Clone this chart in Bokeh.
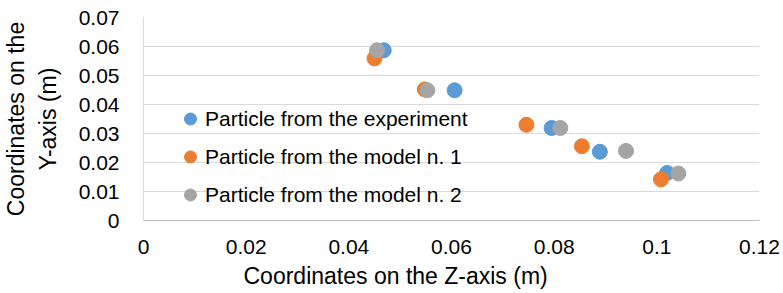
from bokeh.plotting import figure
from bokeh.models import (Range1d, FixedTicker, NumeralTickFormatter, Legend, LegendItem, Title)
from bokeh.embed import file_html
from bokeh.resources import INLINE

# Data (Z, Y coordinates in metres)
exp_z = [0.0468, 0.0606, 0.0795, 0.0889, 0.1020]
exp_y = [0.0587, 0.0449, 0.0319, 0.0237, 0.0164]
m1_z = [0.0450, 0.0548, 0.0746, 0.0854, 0.1008]
m1_y = [0.0559, 0.0452, 0.0330, 0.0256, 0.0142]
m2_z = [0.0455, 0.0553, 0.0812, 0.0940, 0.1042]
m2_y = [0.0587, 0.0449, 0.0319, 0.0240, 0.0162]

series_names = ["Particle from the experiment", "Particle from the model n. 1",
                "Particle from the model n. 2"]
x_ticks = [0, 0.02, 0.04, 0.06, 0.08, 0.1, 0.12]
y_ticks = [0, 0.01, 0.02, 0.03, 0.04, 0.05, 0.06, 0.07]

colors = ["#5B9BD5", "#ED7D31", "#A5A5A5"]
FONT = "Liberation Sans"

p = figure(width=783, height=293, output_backend="svg", toolbar_location=None,
           x_range=Range1d(0, 0.12), y_range=Range1d(0, 0.07),
           min_border_left=143, min_border_right=24, min_border_top=17, min_border_bottom=73)
p.outline_line_color = None
p.background_fill_color = "white"
p.border_fill_color = "white"

renderers = []
for (zs, ys), c in zip([(exp_z, exp_y), (m1_z, m1_y), (m2_z, m2_y)], colors):
    r = p.scatter(zs, ys, size=15, color=c, line_color=c)
    renderers.append(r)

p.xaxis.ticker = FixedTicker(ticks=x_ticks)
p.yaxis.ticker = FixedTicker(ticks=y_ticks)
for ax in (p.xaxis[0], p.yaxis[0]):
    ax.formatter = NumeralTickFormatter(format="0.[00]")
    ax.major_tick_line_color = None
    ax.minor_tick_line_color = None
    ax.major_label_text_font = FONT
    ax.major_label_text_font_size = "21px"
    ax.major_label_text_color = "#000000"
    ax.axis_label_text_font = FONT
    ax.axis_label_text_font_style = "normal"
    ax.axis_label_text_font_size = "23px"
    ax.axis_label_text_color = "#000000"

p.yaxis.axis_line_color = "#D9D9D9"
p.xaxis.axis_line_color = "#BFBFBF"
p.yaxis.major_label_standoff = 18
p.xaxis.major_label_standoff = 13
p.yaxis.axis_label = "Coordinates on the\nY-axis (m)"
p.yaxis.axis_label_standoff = 15

p.xgrid.grid_line_color = None
p.ygrid.grid_line_color = "#D9D9D9"
p.ygrid.grid_line_width = 1

xt = Title(text="Coordinates on the Z-axis (m)", align="left", offset=100,
           text_font=FONT, text_font_size="23px", text_font_style="normal",
           text_color="#000000", standoff=9)
p.add_layout(xt, "below")

legend = Legend(items=[LegendItem(label=n, renderers=[r]) for n, r in zip(series_names, renderers)],
                location=(32, 8), glyph_width=30, glyph_height=35, label_standoff=0,
                spacing=3, padding=0, margin=0, border_line_alpha=0,
                background_fill_alpha=0, label_text_font=FONT,
                label_text_font_size="21px", label_text_color="#000000")
p.add_layout(legend, "center")

open("out.html", "w").write(file_html(p, INLINE))
